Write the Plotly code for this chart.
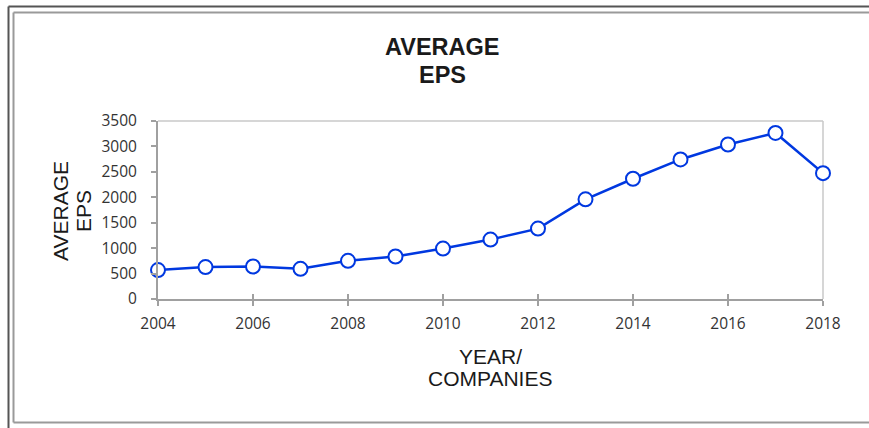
import plotly.graph_objects as go

years = list(range(2004, 2019))
avg_eps = [568, 627, 639, 594, 751, 835, 992, 1168, 1384, 1960, 2364, 2744, 3038, 3265, 2475]
y_ticks = [0, 500, 1000, 1500, 2000, 2500, 3000, 3500]
x_ticks = [2004, 2006, 2008, 2010, 2012, 2014, 2016, 2018]

W, H = 869, 428
L, R, T, B = 158, 823, 121, 299  # plot area pixel box

def px(x):
    return (x - L) / (R - L)

def py(y):
    return (B - y) / (B - T)

BLUE = "#0038E0"

fig = go.Figure()
fig.add_trace(go.Scatter(
    x=years, y=avg_eps, mode="lines+markers",
    line=dict(color=BLUE, width=2.5),
    marker=dict(size=14, color="white", line=dict(color=BLUE, width=2)),
    cliponaxis=False, showlegend=False,
))

shapes = [
    dict(type="line", xref="paper", yref="paper", x0=0, x1=1, y0=1, y1=1,
         line=dict(color="#c8c8c8", width=1.5), layer="below"),
    dict(type="line", xref="paper", yref="paper", x0=1, x1=1, y0=0, y1=1,
         line=dict(color="#c8c8c8", width=1.5), layer="below"),
    dict(type="line", xref="paper", yref="paper", x0=px(8.5), x1=px(8.5), y0=py(6.5), y1=py(432),
         line=dict(color="#555555", width=2)),
    dict(type="line", xref="paper", yref="paper", x0=px(8.5), x1=px(875), y0=py(6.5), y1=py(6.5),
         line=dict(color="#555555", width=2)),
    dict(type="line", xref="paper", yref="paper", x0=px(13.5), x1=px(13.5), y0=py(12.5), y1=py(422.5),
         line=dict(color="#9a9a9a", width=2)),
    dict(type="line", xref="paper", yref="paper", x0=px(13.5), x1=px(875), y0=py(12.5), y1=py(12.5),
         line=dict(color="#9a9a9a", width=2)),
    dict(type="line", xref="paper", yref="paper", x0=px(13.5), x1=px(875), y0=py(422.5), y1=py(422.5),
         line=dict(color="#9a9a9a", width=2)),
]

def ann(text, x, y, size, bold=False, angle=0):
    return dict(text=f"<b>{text}</b>" if bold else text, xref="paper", yref="paper",
                x=px(x), y=py(y), xanchor="center", yanchor="middle", showarrow=False,
                textangle=angle,
                font=dict(family="Liberation Sans, Arial, sans-serif", size=size, color="#1a1a1a"))

annotations = [
    ann("AVERAGE", 442, 47, 23.5, bold=True),
    ann("EPS", 442, 75, 23.5, bold=True),
    ann("AVERAGE", 60, 211, 21, angle=-90),
    ann("EPS", 83, 211, 21, angle=-90),
    ann("YEAR/", 490, 356, 21),
    ann("COMPANIES", 490, 378, 21),
]

TICKFONT = dict(family="Open Sans, sans-serif", size=15.5, color="#333333")

fig.update_layout(
    width=W, height=H,
    margin=dict(l=L, r=W - R, t=T, b=H - B),
    paper_bgcolor="white", plot_bgcolor="white",
    shapes=shapes, annotations=annotations,
    font=dict(family="Open Sans, sans-serif", size=15, color="#333333"),
    xaxis=dict(range=[2004, 2018], tickmode="array", tickvals=x_ticks,
               ticks="outside", ticklen=5, tickwidth=2, tickcolor="#a0a0a0",
               showline=True, linecolor="#a0a0a0", linewidth=2, showgrid=False,
               zeroline=False, ticklabelstandoff=4, tickfont=TICKFONT),
    xaxis2=dict(range=[2004, 2018], overlaying="x", anchor="y", side="bottom",
                tickmode="array", tickvals=x_ticks, ticks="inside", ticklen=5,
                tickwidth=2, tickcolor="#a0a0a0", showticklabels=False,
                showgrid=False, zeroline=False, showline=False),
    yaxis=dict(range=[0, 3500], tickmode="array", tickvals=y_ticks,
               ticks="outside", ticklen=5, tickwidth=2, tickcolor="#a0a0a0",
               showline=True, linecolor="#a0a0a0", linewidth=2, showgrid=False,
               zeroline=False, ticklabelstandoff=11, tickfont=TICKFONT),
)
fig.add_trace(go.Scatter(x=[2004], y=[0], xaxis="x2", mode="markers",
                         marker=dict(opacity=0), showlegend=False, hoverinfo="skip"))

fig.write_html("out.html")
